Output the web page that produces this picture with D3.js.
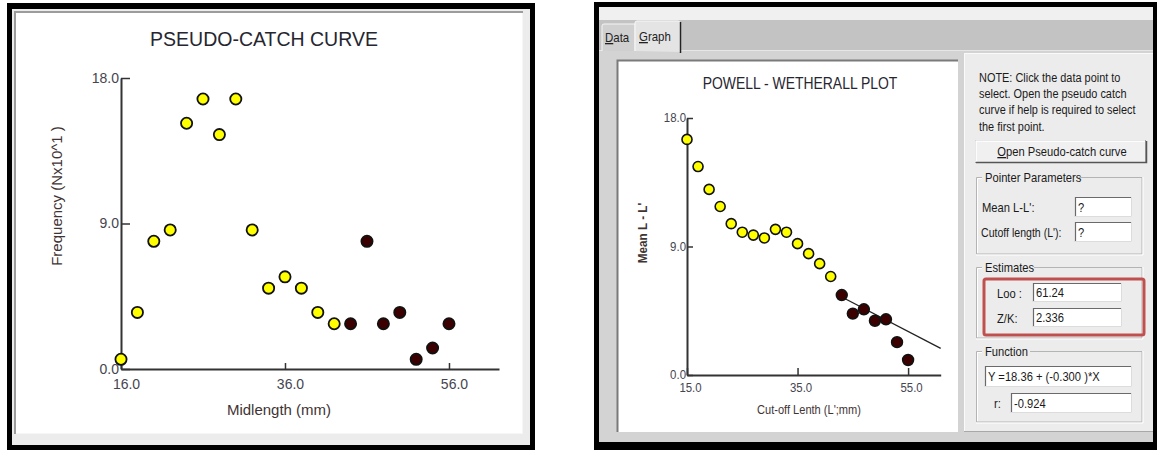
<!DOCTYPE html>
<html>
<head>
<meta charset="utf-8">
<script src="https://cdn.jsdelivr.net/npm/d3@7/dist/d3.min.js"></script>
<style>
  html, body { margin: 0; padding: 0; background: #ffffff; }
  svg { display: block; }
  text { font-family: "Liberation Sans", Arial, sans-serif; }
</style>
</head>
<body>
<script>
// ---- Pseudo-catch curve data ----
const pcMidlength = [16, 18, 20, 22, 24, 26, 28, 30, 32, 34, 36, 38, 40, 42, 44, 46, 48, 50, 52, 54, 56];
const pcFrequency = [0.6, 3.5, 7.9, 8.6, 15.2, 16.7, 14.5, 16.7, 8.6, 5.0, 5.7, 5.0, 3.5, 2.8, 2.8, 7.9, 2.8, 3.5, 0.6, 1.3, 2.8];
const pcSelected  = [0, 0, 0, 0, 0, 0, 0, 0, 0, 0, 0, 0, 0, 0, 1, 1, 1, 1, 1, 1, 1];
const pcXTicks = [16, 36, 56];
const pcYTicks = [0, 9, 18];

// ---- Powell-Wetherall plot data ----
const pwCutoff   = [15, 17, 19, 21, 23, 25, 27, 29, 31, 33, 35, 37, 39, 41, 43, 45, 47, 49, 51, 53, 55];
const pwMeanDiff = [16.5, 14.6, 13.0, 11.8, 10.6, 10.0, 9.8, 9.6, 10.2, 10.0, 9.2, 8.5, 7.8, 6.9, 5.6, 4.3, 4.6, 3.8, 3.9, 2.3, 1.05];
const pwSelected = [0, 0, 0, 0, 0, 0, 0, 0, 0, 0, 0, 0, 0, 0, 1, 1, 1, 1, 1, 1, 1];
const pwXTicks = [15, 35, 55];
const pwYTicks = [0, 9, 18];

// Regression estimates shown in the side panel
const fitIntercept = 18.36;
const fitSlope = -0.300;
const fitR = -0.924;
const estLinf = 61.24;
const estZK = 2.336;

const COL_OPEN = "#ffff00";
const COL_PICK = "#3d0000";

const svg = d3.select("body").append("svg")
  .attr("width", 1157).attr("height", 450);

svg.append("rect").attr("width", 1157).attr("height", 450).attr("fill", "#ffffff");

// squeeze text horizontally to mimic the narrow UI font
function narrow(sel, k) {
  sel.each(function () {
    const w = this.getComputedTextLength();
    this.setAttribute("textLength", (w * k).toFixed(1));
    this.setAttribute("lengthAdjust", "spacingAndGlyphs");
  });
  return sel;
}

function drawAxes(g, x, y, xt, yt, opt) {
  const yAxis = d3.axisLeft(y).tickValues(yt).tickFormat(d3.format(".1f"))
    .tickSizeInner(-opt.tick).tickSizeOuter(0).tickPadding(opt.padY);
  const xAxis = d3.axisBottom(x).tickValues(xt).tickFormat(d3.format(".1f"))
    .tickSizeInner(-opt.tickX).tickSizeOuter(0).tickPadding(opt.padX);

  const ya = g.append("g").attr("transform", `translate(${x.range()[0]},0)`).call(yAxis);
  const xa = g.append("g").attr("transform", `translate(0,${y.range()[0]})`).call(xAxis);
  [ya, xa].forEach(a => {
    a.select(".domain").attr("stroke", "#333").attr("stroke-width", 2);
    a.selectAll(".tick line").attr("stroke", "#333").attr("stroke-width", 1.5);
    a.selectAll(".tick text").attr("fill", "#45454f")
      .style("font-size", opt.fs + "px")
      .style("font-family", '"Liberation Sans", Arial, sans-serif');
  });
  xa.selectAll(".tick text").attr("dx", opt.dxX);
  return { xa, ya };
}

// =================== Left window: pseudo-catch curve ===================
(function () {
  const g = svg.append("g");
  g.append("rect").attr("x", 7).attr("y", 3).attr("width", 528).attr("height", 447).attr("fill", "#000");
  g.append("rect").attr("x", 12).attr("y", 9).attr("width", 518).attr("height", 436).attr("fill", "#ececec");
  g.append("rect").attr("x", 14).attr("y", 11).attr("width", 509).attr("height", 423).attr("fill", "#9c9c9c");
  g.append("rect").attr("x", 16).attr("y", 13).attr("width", 507).attr("height", 421).attr("fill", "#f6f6f6");
  g.append("rect").attr("x", 16).attr("y", 13).attr("width", 506).attr("height", 420).attr("fill", "#ffffff");

  const x = d3.scaleLinear().domain([16, 62.1]).range([121, 499]);
  const y = d3.scaleLinear().domain([0, 18]).range([369, 78]);

  g.append("text").attr("x", 264).attr("y", 46).attr("text-anchor", "middle")
    .attr("fill", "#262630").style("font-size", "19.5px").text("PSEUDO-CATCH CURVE");

  drawAxes(g, x, y, pcXTicks, pcYTicks, { tick: 9, tickX: 6, padY: 2, padX: 10, fs: 14, dxX: 5 });

  g.append("text").attr("transform", "translate(62,196) rotate(-90)").attr("text-anchor", "middle")
    .attr("fill", "#3f3434").style("font-size", "15px").text("Frequency (Nx10^1 )");
  g.append("text").attr("x", 279).attr("y", 415).attr("text-anchor", "middle")
    .attr("fill", "#3f3434").style("font-size", "15px").text("Midlength (mm)");

  const pts = pcMidlength.map((m, i) => ({ m, f: pcFrequency[i], s: pcSelected[i] }));
  g.append("g").selectAll("circle").data(pts).join("circle")
    .attr("cx", d => x(d.m)).attr("cy", d => y(d.f)).attr("r", 5.6)
    .attr("fill", d => d.s ? COL_PICK : COL_OPEN)
    .attr("stroke", "#111").attr("stroke-width", 1.8);
})();

// =================== Right window: Powell-Wetherall plot ===================
(function () {
  const g = svg.append("g");
  // window frame
  g.append("rect").attr("x", 594).attr("y", 2).attr("width", 563).attr("height", 448).attr("fill", "#000");
  g.append("rect").attr("x", 599).attr("y", 7).attr("width", 554).attr("height", 435).attr("fill", "#d3d3d3");
  g.append("rect").attr("x", 599).attr("y", 7).attr("width", 554).attr("height", 13).attr("fill", "#f0f0f0");
  g.append("rect").attr("x", 599).attr("y", 20).attr("width", 554).attr("height", 30).attr("fill", "#c3c3c3");
  g.append("line").attr("x1", 599).attr("x2", 1153).attr("y1", 50.5).attr("y2", 50.5).attr("stroke", "#e6e6e6");

  // tabs
  g.append("path").attr("d", "M602,51 V26 Q602,24 604,24 H635 V51").attr("fill", "#d0d0d0").attr("stroke", "#f4f4f4");
  g.append("path").attr("d", "M635,51 V23 Q635,21 637,21 H678 Q680,21 680,23 V52").attr("fill", "#e4e4e4").attr("stroke", "#f8f8f8");
  g.append("line").attr("x1", 680.5).attr("x2", 680.5).attr("y1", 22).attr("y2", 53).attr("stroke", "#222").attr("stroke-width", 1.5);
  const tabData = g.append("text").attr("x", 605).attr("y", 42).attr("fill", "#222").style("font-size", "13px");
  tabData.append("tspan").style("text-decoration", "underline").text("D");
  tabData.append("tspan").text("ata");
  narrow(tabData, 0.88);
  const tabGraph = g.append("text").attr("x", 639).attr("y", 41).attr("fill", "#222").style("font-size", "13px");
  tabGraph.append("tspan").style("text-decoration", "underline").text("G");
  tabGraph.append("tspan").text("raph");
  narrow(tabGraph, 0.88);

  // chart canvas (sunken)
  g.append("rect").attr("x", 617).attr("y", 60).attr("width", 341).attr("height", 372).attr("fill", "#ffffff");
  g.append("path").attr("d", "M617.5,432 V60.5 H958").attr("fill", "none").attr("stroke", "#7a7a7a").attr("stroke-width", 2);

  const x = d3.scaleLinear().domain([15, 60.9]).range([687, 940.7]);
  const y = d3.scaleLinear().domain([0, 18]).range([375, 118]);

  narrow(g.append("text").attr("x", 800).attr("y", 89).attr("text-anchor", "middle")
    .attr("fill", "#262630").style("font-size", "16px").text("POWELL - WETHERALL PLOT"), 0.87);

  const ax = drawAxes(g, x, y, pwXTicks, pwYTicks, { tick: 6, tickX: 7, padY: 1, padX: 8, fs: 12, dxX: 3 });
  narrow(ax.ya.selectAll(".tick text"), 0.95);
  narrow(ax.xa.selectAll(".tick text"), 0.95);

  narrow(g.append("text").attr("transform", "translate(647,233) rotate(-90)").attr("text-anchor", "middle")
    .attr("fill", "#3f3434").style("font-size", "13px").style("font-weight", "bold").text("Mean L - L'"), 0.9);
  narrow(g.append("text").attr("x", 809).attr("y", 414).attr("text-anchor", "middle")
    .attr("fill", "#3f3434").style("font-size", "13px").text("Cut-off Lenth (L';mm)"), 0.85);

  // fitted line over the selected points
  const sel = pwCutoff.filter((c, i) => pwSelected[i]);
  const first = sel[0], last = sel[sel.length - 1];
  g.append("line")
    .attr("x1", x(first)).attr("y1", y(fitIntercept + fitSlope * first))
    .attr("x2", x.range()[1]).attr("y2", y(fitIntercept + fitSlope * last))
    .attr("stroke", "#222").attr("stroke-width", 1.3);

  const pts = pwCutoff.map((c, i) => ({ c, v: pwMeanDiff[i], s: pwSelected[i] }));
  g.append("g").selectAll("circle").data(pts).join("circle")
    .attr("cx", d => x(d.c)).attr("cy", d => y(d.v)).attr("r", d => d.s ? 5.4 : 5)
    .attr("fill", d => d.s ? COL_PICK : COL_OPEN)
    .attr("stroke", "#111").attr("stroke-width", 1.6);

  // ---- side panel ----
  const p = g.append("g");
  p.append("rect").attr("x", 964).attr("y", 53).attr("width", 189).attr("height", 379).attr("fill", "#ececec");
  p.append("path").attr("d", "M964.5,432 V53.5 H1153").attr("fill", "none").attr("stroke", "#fafafa");
  p.append("path").attr("d", "M964,431.5 H1153").attr("fill", "none").attr("stroke", "#a8a8a8");

  const noteLines = ["NOTE: Click the data point to", "select. Open the pseudo catch",
    "curve if help is required to select", "the first point."];
  narrow(p.selectAll("text.note").data(noteLines).join("text").attr("class", "note")
    .attr("x", 979).attr("y", (d, i) => 82 + i * 16.2).attr("fill", "#1a1a1a")
    .style("font-size", "12px").text(d => d), 0.91);

  // button
  p.append("rect").attr("x", 975.5).attr("y", 140.5).attr("width", 170).attr("height", 22)
    .attr("fill", "#f0f0f0").attr("stroke", "#a0a0a0");
  p.append("path").attr("d", "M976,162 V141 H1145").attr("fill", "none").attr("stroke", "#ffffff").attr("stroke-width", 1.5);
  p.append("path").attr("d", "M976,162.5 H1146.5 V141").attr("fill", "none").attr("stroke", "#555").attr("stroke-width", 1.5);
  const btn = p.append("text").attr("x", 1062).attr("y", 156).attr("text-anchor", "middle")
    .attr("fill", "#1a1a1a").style("font-size", "13px");
  btn.append("tspan").style("text-decoration", "underline").text("O");
  btn.append("tspan").text("pen Pseudo-catch curve");
  narrow(btn, 0.86);

  function groupBox(x0, y0, x1, y1, title, tw) {
    p.append("path").attr("d", `M${x0 + 6},${y0 + 0.5} H${x0 + 0.5} V${y1} H${x1} V${y0 + 0.5} H${x0 + 8 + tw}`)
      .attr("fill", "none").attr("stroke", "#b4b4b4");
    p.append("path").attr("d", `M${x0 + 6},${y0 + 1.5} H${x0 + 1.5} V${y1 - 1} M${x1 + 1},${y0} V${y1 + 1} H${x0}`)
      .attr("fill", "none").attr("stroke", "#ffffff");
    narrow(p.append("text").attr("x", x0 + 9).attr("y", y0 + 5).attr("fill", "#1a1a1a")
      .style("font-size", "13px").text(title), 0.86);
  }
  function field(x0, y0, x1, y1, value) {
    p.append("rect").attr("x", x0).attr("y", y0).attr("width", x1 - x0).attr("height", y1 - y0).attr("fill", "#ffffff");
    p.append("path").attr("d", `M${x0 + 0.5},${y1} V${y0 + 0.5} H${x1}`).attr("fill", "none").attr("stroke", "#6a6a6a").attr("stroke-width", 1.2);
    p.append("path").attr("d", `M${x0},${y1 - 0.5} H${x1 - 0.5} V${y0}`).attr("fill", "none").attr("stroke", "#dcdcdc");
    narrow(p.append("text").attr("x", x0 + 3).attr("y", (y0 + y1) / 2 + 4.5).attr("fill", "#1a1a1a")
      .style("font-size", "13px").text(value), 0.86);
  }
  function label(x0, yc, t, fs, k) {
    narrow(p.append("text").attr("x", x0).attr("y", yc + 4.5).attr("fill", "#1a1a1a")
      .style("font-size", (fs || 13) + "px").text(t), k || 0.86);
  }

  groupBox(976, 177, 1142, 254, "Pointer Parameters", 95);
  label(982, 207, "Mean L-L':");
  field(1075, 197, 1132, 217, "?");
  label(981, 232, "Cutoff length (L'):", 12, 0.88);
  field(1075, 222, 1132, 242, "?");

  groupBox(976, 267, 1142, 338, "Estimates", 50);
  label(997, 293, "Loo :");
  field(1033, 283, 1122, 302, d3.format(".2f")(estLinf));
  label(997, 318, "Z/K:");
  field(1033, 308, 1122, 327, d3.format(".3f")(estZK));
  p.append("rect").attr("x", 984).attr("y", 279).attr("width", 160).attr("height", 56).attr("rx", 2)
    .attr("fill", "none").attr("stroke", "#c0504d").attr("stroke-width", 3);

  groupBox(976, 351, 1142, 422, "Function", 46);
  field(985, 366, 1132, 387, `Y =${fitIntercept.toFixed(2)} + (${fitSlope.toFixed(3)} )*X`);
  label(994, 403, "r:");
  field(1011, 393, 1132, 413, fitR.toFixed(3));
})();
</script>
</body>
</html>
